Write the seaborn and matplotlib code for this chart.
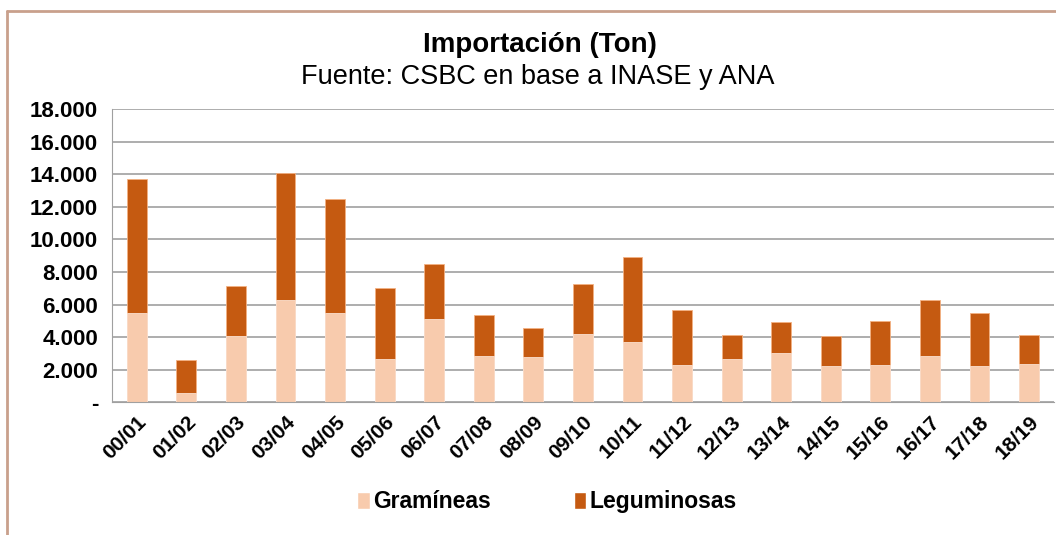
import numpy as np
import pandas as pd
import matplotlib.pyplot as plt
import matplotlib.ticker as mticker
from matplotlib.patches import Patch
from matplotlib.lines import Line2D
import seaborn as sns

# campañas
campanas = ['00/01', '01/02', '02/03', '03/04', '04/05', '05/06', '06/07', '07/08',
            '08/09', '09/10', '10/11', '11/12', '12/13', '13/14', '14/15', '15/16',
            '16/17', '17/18', '18/19']
# toneladas importadas
gramineas = [5480, 600, 4100, 6260, 5480, 2680, 5090, 2840, 2800, 4180,
             3690, 2290, 2640, 3010, 2200, 2270, 2840, 2250, 2350]
leguminosas = [8260, 2020, 3050, 7790, 7020, 4340, 3380, 2510, 1790, 3110,
               5250, 3360, 1520, 1910, 1900, 2720, 3440, 3230, 1810]

df = pd.DataFrame({'campana': campanas, 'Gramíneas': gramineas,
                   'Leguminosas': leguminosas})
df['total'] = df['Gramíneas'] + df['Leguminosas']

c_gram = '#F8CBAD'
c_leg = '#C55A11'

sns.set_style('white')
plt.rcParams['font.family'] = ['Liberation Sans', 'DejaVu Sans']
plt.rcParams['text.color'] = 'black'
plt.rcParams['xtick.color'] = 'black'
plt.rcParams['ytick.color'] = 'black'

fig = plt.figure(figsize=(10.56, 5.35), dpi=100)
ax = fig.add_axes([0.106, 0.248, 0.892, 0.548])

# apilado: primero el total, encima la parte de gramíneas
sns.barplot(data=df, x='campana', y='total', color=c_leg, width=0.4,
            saturation=1, ax=ax, edgecolor='#F4B183', linewidth=0.6)
sns.barplot(data=df, x='campana', y='Gramíneas', color=c_gram, width=0.4,
            saturation=1, ax=ax, edgecolor='#FBE0CF', linewidth=0.6)

ax.set_ylim(0, 18000)
ax.set_xlim(-0.5, len(campanas) - 0.5)
ax.set_yticks(np.arange(0, 18001, 2000))
ax.yaxis.set_major_formatter(mticker.FuncFormatter(
    lambda v, p: '-' if v == 0 else f'{int(v):,}'.replace(',', '.')))
ax.grid(axis='y', color='#A0A0A0', linewidth=1.2)
ax.set_axisbelow(True)

for s in ['top', 'right']:
    ax.spines[s].set_visible(False)
ax.spines['left'].set_color('#A0A0A0')
ax.spines['bottom'].set_color('#A0A0A0')

# ticks entre categorias
ax.set_xticks(np.arange(len(campanas)))
ax.set_xticks(np.arange(-0.5, len(campanas)), minor=True)
ax.tick_params(axis='x', which='major', length=0, pad=7)
ax.tick_params(axis='x', which='minor', length=6, color='#A0A0A0', width=1)
ax.tick_params(axis='y', length=6, color='#A0A0A0', width=1, pad=4,
               labelcolor='black')
ax.set_xticklabels(campanas, rotation=45, ha='right', rotation_mode='anchor',
                   fontsize=15, fontweight='bold', color='black')
for t in ax.get_yticklabels():
    t.set_fontsize(16)
    t.set_fontweight('bold')
ax.set_xlabel('')
ax.set_ylabel('')

fig.text(0.511, 0.916, 'Importación (Ton)', ha='center', va='center',
         fontsize=20, fontweight='bold')
fig.text(0.509, 0.856, 'Fuente: CSBC en base a INASE y ANA', ha='center',
         va='center', fontsize=19.5)

handles = [Patch(facecolor=c_gram, label='Gramíneas'),
           Patch(facecolor=c_leg, label='Leguminosas')]
fig.legend(handles=handles, loc='center', bbox_to_anchor=(0.518, 0.062), ncol=2,
           frameon=False, prop={'size': 16.5, 'weight': 'bold'},
           handlelength=0.55, handleheight=0.8, handletextpad=0.15,
           columnspacing=3.6)

# borde del grafico
borde = '#C9A08C'
fig.add_artist(Line2D([0.0066, 0.0066], [0, 0.979], transform=fig.transFigure,
                      color=borde, linewidth=2))
fig.add_artist(Line2D([0.0066, 1], [0.979, 0.979], transform=fig.transFigure,
                      color=borde, linewidth=2))

fig.savefig('out.png', dpi=100)
